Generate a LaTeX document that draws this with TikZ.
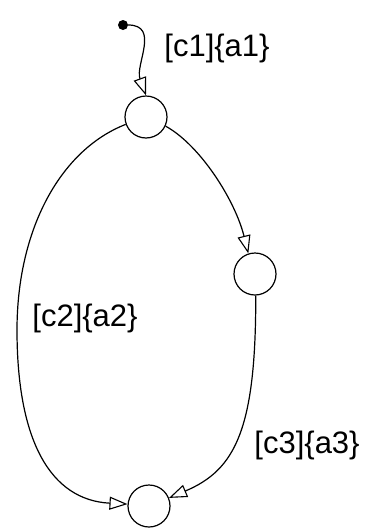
\documentclass[tikz,border=0pt]{standalone}
\usepackage{fontspec}
\setmainfont{Liberation Sans}
\usetikzlibrary{arrows.meta}
\tikzset{
  state/.style={circle, draw, line width=1.2pt, minimum size=42pt, inner sep=0pt},
  initdot/.style={circle, fill, minimum size=10pt, inner sep=0pt},
  lbl/.style={font=\fontsize{31}{36}\selectfont, inner sep=0pt},
  arr/.style={-{Triangle[open, length=18pt, width=13pt, line width=1.1pt]}, line width=1.2pt}
}
\begin{document}
\begin{tikzpicture}[x=1pt, y=-1pt]
\useasboundingbox (0,0) rectangle (369,528);
\node[initdot] (init) at (123,25) {};
\node[state] (s1) at (146,117) {};
\node[state] (s2) at (255,274) {};
\node[state] (s3) at (149,506) {};

\draw[arr] (init) .. controls (160,25) and (135,65) .. (s1.north);
\draw[arr] (s1.-25) .. controls (200,145) and (235,200) .. (s2.108);
\draw[arr] (s1.-160) .. controls (60,150) and (17,230) .. (17,330)
  .. controls (17,440) and (50,500) .. (s3.175);
\draw[arr] (s2.-88) .. controls (256,430) and (235,470) .. (s3.22);

\node[lbl] (l1) at (217,48) {[c1]\{a1\}};
\node[lbl] (l2) at (85,318) {[c2]\{a2\}};
\node[lbl] (l3) at (307,445) {[c3]\{a3\}};
\end{tikzpicture}
\end{document}
